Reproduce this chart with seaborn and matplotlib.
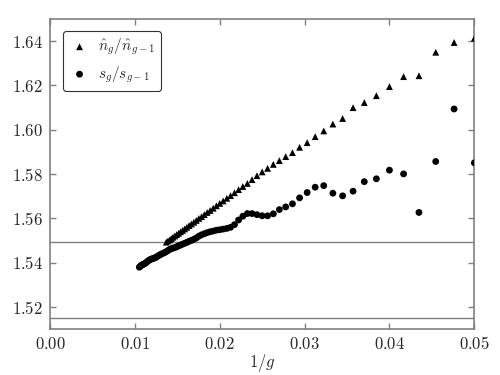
import numpy as np
import pandas as pd
import matplotlib
matplotlib.use("Agg")
import matplotlib.pyplot as plt
import seaborn as sns
from matplotlib.ticker import FuncFormatter, MultipleLocator

# ---- data ----
g_tri = list(range(20, 74))
n_ratio = [1.6413, 1.6394, 1.6350, 1.6244, 1.6240, 1.6195, 1.6154, 1.6123, 1.6100, 1.6051,
           1.6026, 1.5995, 1.5969, 1.5942, 1.5921, 1.5897, 1.5879, 1.5861, 1.5844, 1.5826,
           1.5810, 1.5793, 1.5775, 1.5758, 1.5744, 1.5730, 1.5716, 1.5703, 1.5691, 1.5679,
           1.5668, 1.5657, 1.5646, 1.5636, 1.5627, 1.5617, 1.5608, 1.5600, 1.5591, 1.5583,
           1.5575, 1.5568, 1.5560, 1.5553, 1.5546, 1.5540, 1.5533, 1.5527, 1.5521, 1.5515,
           1.5509, 1.5503, 1.5498, 1.5493]

g_circ = list(range(20, 96))
s_ratio = [1.5851, 1.6094, 1.5857, 1.5627, 1.5801, 1.5818, 1.5779, 1.5766, 1.5723, 1.5702,
           1.5714, 1.5748, 1.5741, 1.5717, 1.5693, 1.5666, 1.5652, 1.5640, 1.5621, 1.5612,
           1.5612, 1.5617, 1.5622, 1.5622, 1.5610, 1.5593, 1.5572, 1.5560, 1.5555, 1.5552,
           1.5549, 1.5547, 1.5543, 1.5540, 1.5536, 1.5531, 1.5526, 1.5520, 1.5512, 1.5506,
           1.5501, 1.5497, 1.5492, 1.5488, 1.5484, 1.5480, 1.5476, 1.5472, 1.5469, 1.5466,
           1.5463, 1.5460, 1.5455, 1.5450, 1.5446, 1.5443, 1.5440, 1.5437, 1.5433, 1.5429,
           1.5425, 1.5422, 1.5420, 1.5418, 1.5416, 1.5414, 1.5410, 1.5406, 1.5402, 1.5398,
           1.5395, 1.5393, 1.5391, 1.5388, 1.5384, 1.5380]

hlines = [1.5495, 1.515]

tri_label = r"$\hat{n}_g/\hat{n}_{g-1}$"
circ_label = r"$s_g/s_{g-1}$"

# ---- style ----
sns.set_style("ticks")
plt.rcParams["mathtext.fontset"] = "cm"
plt.rcParams["font.family"] = ["DejaVu Serif"]

df_tri = pd.DataFrame({"x": 1.0 / np.array(g_tri), "y": n_ratio})
df_circ = pd.DataFrame({"x": 1.0 / np.array(g_circ), "y": s_ratio})

fig = plt.figure(figsize=(5, 3.75), dpi=100)
ax = fig.add_axes([0.1, 0.122, 0.8486, 0.8273])

for h in hlines:
    ax.axhline(h, color="#7f7f7f", lw=1.0, zorder=1)

sns.scatterplot(data=df_tri, x="x", y="y", marker="^", color="black", s=24,
                edgecolor="none", label=tri_label, ax=ax, zorder=3)
sns.scatterplot(data=df_circ, x="x", y="y", marker="o", color="black", s=24,
                edgecolor="none", label=circ_label, ax=ax, zorder=3)

ax.set_xlim(0.0, 0.05)
ax.set_ylim(1.51, 1.65)
ax.xaxis.set_major_locator(MultipleLocator(0.01))
ax.yaxis.set_major_locator(MultipleLocator(0.02))
ax.xaxis.set_major_formatter(FuncFormatter(lambda v, p: r"$%.2f$" % v))
ax.yaxis.set_major_formatter(FuncFormatter(lambda v, p: r"$%.2f$" % v))
ax.set_xlabel(r"$1/g$", fontsize=12, labelpad=-1)
ax.set_ylabel("")

for sp in ax.spines.values():
    sp.set_visible(True)
    sp.set_color("#808080")
    sp.set_linewidth(1.2)
ax.tick_params(direction="in", length=4, width=1.0, color="#808080",
               top=True, right=True, labelsize=12, pad=5)

leg = ax.legend(loc="upper left", bbox_to_anchor=(0.03, 0.962), fontsize=11,
                frameon=True, fancybox=True, edgecolor="#333333",
                handletextpad=0.5, borderpad=0.4, labelspacing=0.45,
                markerscale=1.0, handlelength=1.4, borderaxespad=0.0)
leg.get_frame().set_linewidth(0.8)
leg.get_frame().set_alpha(1.0)

fig.savefig("out.png", dpi=100)
